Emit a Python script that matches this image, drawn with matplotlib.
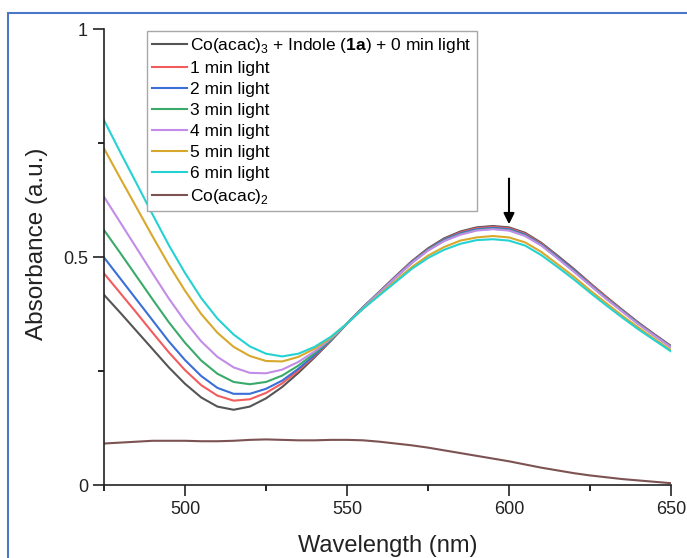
import matplotlib
matplotlib.use('Agg')
import matplotlib.pyplot as plt
from matplotlib.patches import Rectangle
from matplotlib.ticker import MultipleLocator

plt.rcParams['font.family'] = ['Liberation Sans', 'DejaVu Sans']
plt.rcParams['mathtext.fontset'] = 'custom'
plt.rcParams['mathtext.rm'] = 'Liberation Sans'
plt.rcParams['mathtext.bf'] = 'Liberation Sans:bold'

# wavelength grid (nm)
wavelength = [475, 480, 485, 490, 495, 500, 505, 510, 515, 520, 525, 530,
              535, 540, 545, 550, 555, 560, 565, 570, 575, 580, 585, 590,
              595, 600, 605, 610, 615, 620, 625, 630, 635, 640, 645, 650]

# absorbance
abs_0min = [0.417, 0.378, 0.338, 0.298, 0.258, 0.222, 0.192, 0.172, 0.165, 0.172, 0.190, 0.215,
            0.246, 0.280, 0.316, 0.354, 0.390, 0.424, 0.458, 0.491, 0.519, 0.541, 0.556, 0.565,
            0.568, 0.565, 0.553, 0.531, 0.503, 0.474, 0.443, 0.413, 0.384, 0.356, 0.330, 0.305]
abs_1min = [0.464, 0.421, 0.378, 0.334, 0.291, 0.252, 0.219, 0.196, 0.185, 0.188, 0.202, 0.223,
            0.251, 0.283, 0.317, 0.354, 0.390, 0.423, 0.457, 0.490, 0.517, 0.539, 0.554, 0.563,
            0.566, 0.563, 0.551, 0.529, 0.501, 0.472, 0.442, 0.412, 0.383, 0.355, 0.329, 0.304]
abs_2min = [0.499, 0.453, 0.407, 0.361, 0.315, 0.274, 0.239, 0.213, 0.200, 0.200, 0.211, 0.229,
            0.255, 0.285, 0.318, 0.354, 0.390, 0.423, 0.456, 0.489, 0.516, 0.538, 0.552, 0.561,
            0.564, 0.561, 0.549, 0.527, 0.500, 0.471, 0.440, 0.410, 0.382, 0.354, 0.328, 0.303]
abs_3min = [0.559, 0.509, 0.458, 0.407, 0.357, 0.312, 0.273, 0.244, 0.226, 0.221, 0.226, 0.240,
            0.262, 0.289, 0.319, 0.354, 0.389, 0.422, 0.455, 0.487, 0.515, 0.536, 0.550, 0.559,
            0.562, 0.559, 0.547, 0.526, 0.498, 0.469, 0.439, 0.409, 0.381, 0.353, 0.327, 0.303]
abs_4min = [0.632, 0.576, 0.520, 0.464, 0.409, 0.359, 0.315, 0.281, 0.258, 0.246, 0.245, 0.253,
            0.270, 0.293, 0.321, 0.354, 0.389, 0.422, 0.455, 0.487, 0.514, 0.535, 0.549, 0.558,
            0.561, 0.558, 0.546, 0.525, 0.497, 0.468, 0.438, 0.408, 0.380, 0.352, 0.327, 0.302]
abs_5min = [0.738, 0.673, 0.609, 0.545, 0.483, 0.426, 0.375, 0.334, 0.303, 0.283, 0.272, 0.271,
            0.281, 0.299, 0.323, 0.354, 0.387, 0.418, 0.448, 0.478, 0.503, 0.522, 0.536, 0.543,
            0.546, 0.543, 0.532, 0.511, 0.484, 0.457, 0.427, 0.399, 0.371, 0.345, 0.320, 0.296]
abs_6min = [0.800, 0.730, 0.662, 0.593, 0.526, 0.465, 0.410, 0.365, 0.330, 0.304, 0.288, 0.282,
            0.288, 0.303, 0.325, 0.354, 0.387, 0.416, 0.445, 0.474, 0.498, 0.516, 0.529, 0.537,
            0.539, 0.536, 0.525, 0.504, 0.478, 0.451, 0.422, 0.394, 0.367, 0.341, 0.317, 0.293]
abs_co2 = [0.091, 0.093, 0.095, 0.097, 0.097, 0.097, 0.096, 0.096, 0.097, 0.099, 0.100, 0.099,
           0.098, 0.098, 0.099, 0.099, 0.098, 0.095, 0.091, 0.087, 0.082, 0.076, 0.070, 0.064,
           0.058, 0.052, 0.045, 0.038, 0.032, 0.026, 0.021, 0.017, 0.013, 0.010, 0.007, 0.004]

labels = [r'Co(acac)$_3$ + Indole ($\mathbf{1a}$) + 0 min light',
          '1 min light', '2 min light', '3 min light', '4 min light',
          '5 min light', '6 min light', r'Co(acac)$_2$']
colors = ['#555555', '#f25c5c', '#3a6fd8', '#3aaa6a', '#c28ce8',
          '#d8a82c', '#25d2d2', '#7d5252']
series = [abs_0min, abs_1min, abs_2min, abs_3min, abs_4min,
          abs_5min, abs_6min, abs_co2]

fig = plt.figure(figsize=(6.87, 5.58), dpi=100)
ax = fig.add_axes([0.1514, 0.1308, 0.8253, 0.8172])

for y, lab, c in zip(series, labels, colors):
    ax.plot(wavelength, y, color=c, lw=1.5, label=lab)

# arrow marking the decrease of the 600 nm band
ax.annotate('', xy=(600, 0.572), xytext=(600, 0.672),
            arrowprops=dict(arrowstyle='-|>', color='black', lw=1.5,
                            mutation_scale=16, shrinkA=0, shrinkB=0))

ax.set_xlim(475, 650)
ax.set_ylim(0, 1)
ax.xaxis.set_minor_locator(MultipleLocator(25))
ax.yaxis.set_minor_locator(MultipleLocator(0.25))
ax.set_xticks([500, 550, 600, 650])
ax.set_yticks([0, 0.5, 1])
ax.set_yticklabels(['0', '0.5', '1'])
ax.tick_params(which='major', direction='out', length=8, width=1.2, labelsize=13, colors='#222222')
ax.tick_params(which='minor', direction='out', length=4, width=1.2)
ax.spines['top'].set_visible(False)
ax.spines['right'].set_visible(False)
for s in ['left', 'bottom']:
    ax.spines[s].set_linewidth(1.2)
    ax.spines[s].set_color('#222222')

ax.set_xlabel('Wavelength (nm)', fontsize=17, color='#222222', labelpad=12)
ax.set_ylabel('Absorbance (a.u.)', fontsize=17.5, color='#222222')
ax.yaxis.set_label_coords(-0.099, 0.53)

leg = ax.legend(loc='upper left', bbox_to_anchor=(0.0758, 0.996), fontsize=12.5,
                frameon=True, fancybox=False, edgecolor='#a8a8a8', framealpha=1,
                borderaxespad=0, borderpad=0.3, labelspacing=0.34,
                handlelength=2.0, handletextpad=0.2)
leg.get_frame().set_linewidth(1.0)

# blue outline around the panel
fig.patches.append(Rectangle((8 / 687, -0.1), 1.2, 1.1 - 13 / 558,
                             transform=fig.transFigure, fill=False,
                             edgecolor='#4a78c8', lw=1.5))

fig.savefig('out.png', dpi=100)
